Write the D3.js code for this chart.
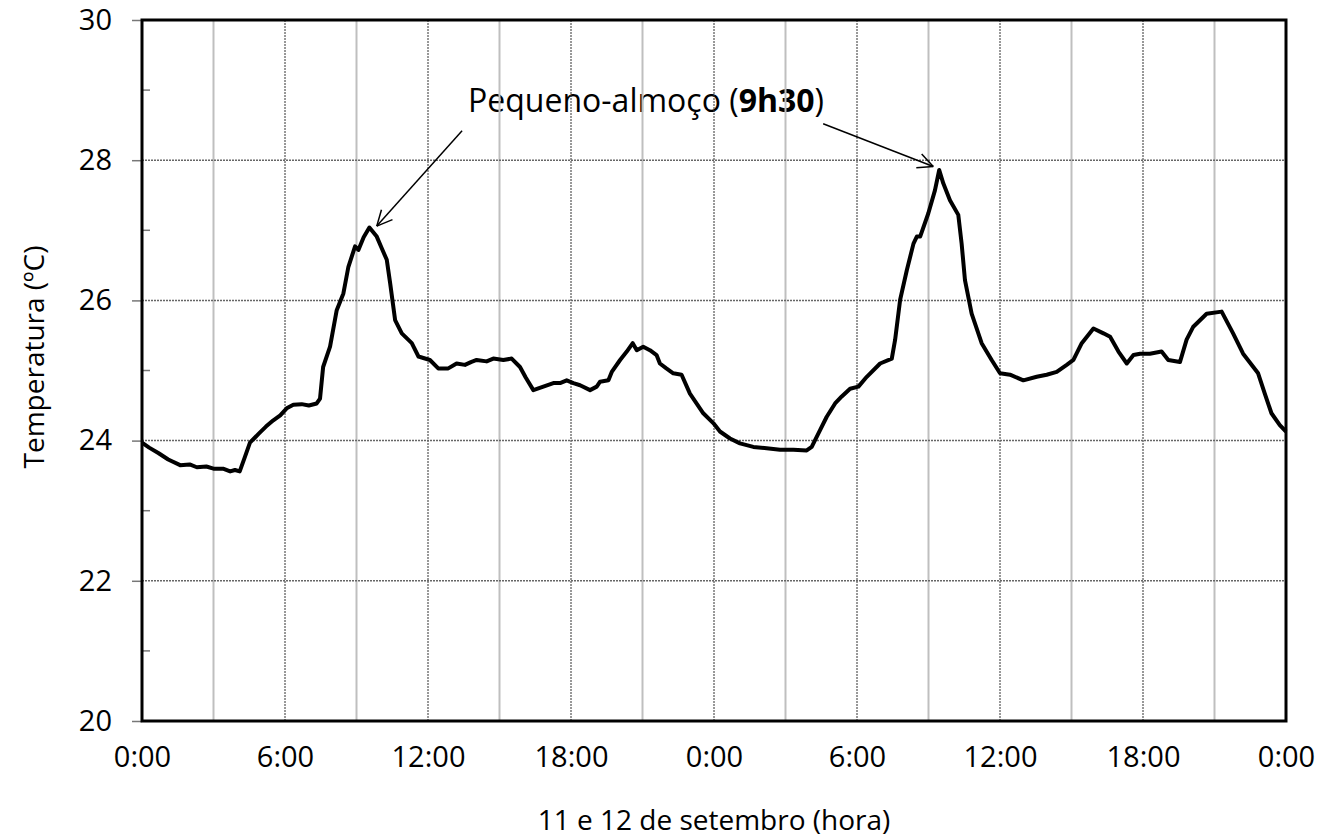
<!DOCTYPE html>
<html>
<head>
<meta charset="utf-8">
<script src="https://cdn.jsdelivr.net/npm/d3@7"></script>
<style>
  body { margin: 0; background: #fff; }
  svg text { font-family: "Open Sans", "Noto Sans", sans-serif; fill: #000; }
</style>
</head>
<body>
<div id="chart"></div>
<script>
// hours since 0:00 on 11 September
const hours = [0, 0.3, 0.7, 1.1, 1.6, 2.0, 2.3, 2.7, 3.0, 3.4, 3.7, 3.9, 4.1, 4.3, 4.53, 4.9, 5.2, 5.51, 5.8, 6.07,
  6.35, 6.7, 7.0, 7.33, 7.47, 7.6, 7.89, 8.17, 8.45, 8.66, 8.94, 9.08, 9.3, 9.54, 9.85, 10.05, 10.27, 10.41, 10.62, 10.9,
  11.32, 11.6, 12.08, 12.43, 12.85, 13.2, 13.55, 13.8, 14.04, 14.46, 14.74, 15.16, 15.51, 15.86, 16.1, 16.42, 16.84, 17.26, 17.54, 17.82,
  18.1, 18.38, 18.8, 19.08, 19.22, 19.57, 19.71, 20.06, 20.34, 20.59, 20.76, 21.03, 21.31, 21.59, 21.73, 22.0, 22.29, 22.64, 22.99, 23.55,
  23.97, 24.25, 24.67, 25.09, 25.65, 26.21, 26.77, 27.33, 27.89, 28.1, 28.45, 28.73, 29.08, 29.36, 29.71, 30.06, 30.41, 30.97, 31.46, 31.6,
  31.81, 32.09, 32.37, 32.51, 32.65, 32.99, 33.27, 33.45, 33.62, 33.9, 34.25, 34.39, 34.53, 34.81, 35.23, 35.65, 36.0, 36.42, 36.98, 37.54,
  37.96, 38.38, 38.8, 39.08, 39.43, 39.92, 40.34, 40.62, 40.97, 41.32, 41.6, 41.88, 42.29, 42.78, 43.06, 43.55, 43.83, 44.1, 44.67, 45.3,
  45.78, 46.2, 46.83, 47.11, 47.39, 47.74, 48.0];

// temperature (ºC)
const temps = [23.97, 23.9, 23.82, 23.73, 23.65, 23.66, 23.62, 23.63, 23.6, 23.6, 23.56, 23.58, 23.56, 23.75, 23.97, 24.1, 24.2, 24.29, 24.36, 24.46,
  24.51, 24.52, 24.5, 24.53, 24.6, 25.05, 25.34, 25.86, 26.1, 26.48, 26.77, 26.72, 26.9, 27.04, 26.91, 26.75, 26.58, 26.25, 25.72, 25.53,
  25.39, 25.2, 25.15, 25.03, 25.03, 25.1, 25.08, 25.12, 25.15, 25.13, 25.17, 25.15, 25.17, 25.05, 24.9, 24.72, 24.77, 24.82, 24.82, 24.86,
  24.82, 24.79, 24.72, 24.77, 24.84, 24.86, 24.98, 25.15, 25.27, 25.39, 25.29, 25.34, 25.29, 25.22, 25.1, 25.03, 24.96, 24.94, 24.67, 24.39,
  24.25, 24.13, 24.03, 23.96, 23.91, 23.89, 23.87, 23.87, 23.86, 23.91, 24.15, 24.34, 24.53, 24.63, 24.74, 24.77, 24.91, 25.1, 25.17, 25.44,
  26.01, 26.43, 26.81, 26.91, 26.91, 27.24, 27.57, 27.86, 27.67, 27.43, 27.22, 26.81, 26.29, 25.81, 25.39, 25.15, 24.96, 24.94, 24.86, 24.91,
  24.94, 24.98, 25.08, 25.15, 25.39, 25.6, 25.53, 25.48, 25.27, 25.1, 25.22, 25.24, 25.24, 25.27, 25.15, 25.12, 25.44, 25.62, 25.81, 25.84,
  25.53, 25.24, 24.96, 24.67, 24.39, 24.22, 24.13];

const xTicks = [0, 6, 12, 18, 24, 30, 36, 42, 48];
const xTickLabels = ["0:00", "6:00", "12:00", "18:00", "0:00", "6:00", "12:00", "18:00", "0:00"];
const xMinorTicks = [3, 9, 15, 21, 27, 33, 39, 45];
const yTicks = [20, 22, 24, 26, 28, 30];
const yMinorTicks = [21, 23, 25, 27, 29];

// arrows: tip and tail in data units
const arrows = [
  { tail: [13.43, 28.42], tip: [9.85, 27.06] },
  { tail: [28.58, 28.52], tip: [33.2, 27.91] }
];

const W = 1317, H = 838;
const margin = { top: 20, right: 31, bottom: 117, left: 142 };
const width = W - margin.left - margin.right;
const height = H - margin.top - margin.bottom;

const svg = d3.select("#chart").append("svg")
  .attr("width", W)
  .attr("height", H);

const g = svg.append("g")
  .attr("transform", `translate(${margin.left},${margin.top})`);

const x = d3.scaleLinear().domain([0, 48]).range([0, width]);
const y = d3.scaleLinear().domain([20, 30]).range([height, 0]);

// annotation text (sits under the grid)
const note = g.append("text")
  .attr("x", x(13.68))
  .attr("y", y(28.69))
  .style("font-size", "32px");
note.append("tspan").text("Pequeno-almoço (");
note.append("tspan").style("font-weight", "bold").text("9h30");
note.append("tspan").text(")");

// minor vertical grid (3h offsets)
g.append("g")
  .selectAll("line")
  .data(xMinorTicks)
  .join("line")
    .attr("x1", d => x(d)).attr("x2", d => x(d))
    .attr("y1", 0).attr("y2", height)
    .attr("stroke", "#bfbfbf")
    .attr("stroke-width", 2);

// major vertical grid
g.append("g")
  .selectAll("line")
  .data(xTicks.slice(1, -1))
  .join("line")
    .attr("x1", d => x(d)).attr("x2", d => x(d))
    .attr("y1", 0).attr("y2", height)
    .attr("stroke", "#333")
    .attr("stroke-width", 1)
    .attr("stroke-dasharray", "2,1");

// horizontal grid
g.append("g")
  .selectAll("line")
  .data(yTicks.slice(1, -1))
  .join("line")
    .attr("x1", 0).attr("x2", width)
    .attr("y1", d => y(d)).attr("y2", d => y(d))
    .attr("stroke", "#666")
    .attr("stroke-width", 1.5)
    .attr("stroke-dasharray", "2,1");

// y axis
const yAxisG = g.append("g")
  .call(d3.axisLeft(y).tickValues(yTicks).tickSize(10).tickPadding(20).tickFormat(d3.format("d")));
yAxisG.select(".domain").remove();
yAxisG.selectAll(".tick line").attr("stroke", "#777").attr("stroke-width", 1.5);
yAxisG.selectAll(".tick text")
  .style("font-size", "29px")
  .style("font-family", "'Open Sans', sans-serif");

// minor inward y ticks
g.append("g")
  .selectAll("line")
  .data(yMinorTicks)
  .join("line")
    .attr("x1", 0).attr("x2", 8)
    .attr("y1", d => y(d)).attr("y2", d => y(d))
    .attr("stroke", "#777")
    .attr("stroke-width", 1.5);

// x axis
const xAxisG = g.append("g")
  .attr("transform", `translate(0,${height})`)
  .call(d3.axisBottom(x).tickValues(xTicks).tickSize(0).tickPadding(25)
    .tickFormat((d, i) => xTickLabels[i]));
xAxisG.select(".domain").remove();
xAxisG.selectAll(".tick text")
  .style("font-size", "29px")
  .style("font-family", "'Open Sans', sans-serif");

// plot frame
g.append("rect")
  .attr("x", 0).attr("y", 0)
  .attr("width", width).attr("height", height)
  .attr("fill", "none")
  .attr("stroke", "#000")
  .attr("stroke-width", 3);

// temperature line
const line = d3.line()
  .x((d, i) => x(hours[i]))
  .y(d => y(d));

g.append("path")
  .datum(temps)
  .attr("fill", "none")
  .attr("stroke", "#000")
  .attr("stroke-width", 4)
  .attr("stroke-linejoin", "round")
  .attr("d", line);

// annotation arrows with open heads
arrows.forEach(a => {
  const x1 = x(a.tail[0]), y1 = y(a.tail[1]);
  const x2 = x(a.tip[0]), y2 = y(a.tip[1]);
  const ang = Math.atan2(y2 - y1, x2 - x1);
  const len = 17, spread = 0.45;
  g.append("line")
    .attr("x1", x1).attr("y1", y1).attr("x2", x2).attr("y2", y2)
    .attr("stroke", "#000").attr("stroke-width", 1.5);
  [-spread, spread].forEach(s => {
    g.append("line")
      .attr("x1", x2).attr("y1", y2)
      .attr("x2", x2 - len * Math.cos(ang + s))
      .attr("y2", y2 - len * Math.sin(ang + s))
      .attr("stroke", "#000").attr("stroke-width", 1.5);
  });
});

// axis titles
svg.append("text")
  .attr("transform", `translate(44,357) rotate(-90)`)
  .attr("text-anchor", "middle")
  .style("font-size", "28px")
  .text("Temperatura (ºC)");

svg.append("text")
  .attr("x", margin.left + width / 2)
  .attr("y", 830)
  .attr("text-anchor", "middle")
  .style("font-size", "28px")
  .text("11 e 12 de setembro (hora)");
</script>
</body>
</html>
